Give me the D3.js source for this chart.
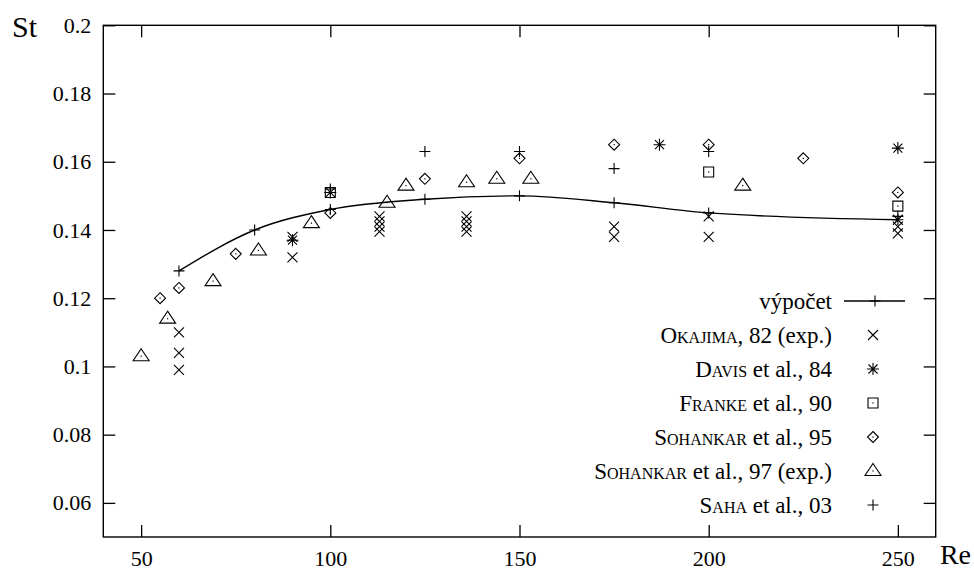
<!DOCTYPE html>
<html>
<head>
<meta charset="utf-8">
<script src="https://cdn.jsdelivr.net/npm/d3@7"></script>
<style>
  body { margin: 0; background: #fff; }
  svg text { font-family: "Liberation Serif", "DejaVu Serif", serif; fill: #000; }
  .sc { font-variant: small-caps; }
</style>
</head>
<body>
<div id="chart"></div>
<script>
// --- data ---
var xTicks = [50, 100, 150, 200, 250];
var yTicks = [0.06, 0.08, 0.1, 0.12, 0.14, 0.16, 0.18, 0.2];
var yTickLabels = ["0.06", "0.08", "0.1", "0.12", "0.14", "0.16", "0.18", "0.2"];

// výpočet (calculation)
var calcRe = [60, 80, 100, 125, 150, 175, 200, 250];
var calcSt = [0.128, 0.140, 0.146, 0.149, 0.150, 0.148, 0.145, 0.143];

// Okajima, 82 (exp.)
var okajimaRe = [60, 60, 60, 90, 90, 113, 113, 113, 113, 136, 136, 136, 136, 175, 175, 200, 200, 250, 250, 250];
var okajimaSt = [0.110, 0.104, 0.099, 0.138, 0.132, 0.144, 0.1425, 0.141, 0.1395, 0.144, 0.1425, 0.141, 0.1395, 0.141, 0.138, 0.144, 0.138, 0.143, 0.141, 0.139];

// Davis et al., 84
var davisRe = [90, 100, 187, 250];
var davisSt = [0.137, 0.151, 0.165, 0.164];

// Franke et al., 90
var frankeRe = [100, 200, 250];
var frankeSt = [0.151, 0.157, 0.147];

// Sohankar et al., 95
var sohankar95Re = [55, 60, 75, 100, 125, 150, 175, 200, 225, 250];
var sohankar95St = [0.120, 0.123, 0.133, 0.145, 0.155, 0.161, 0.165, 0.165, 0.161, 0.151];

// Sohankar et al., 97 (exp.)
var sohankar97Re = [50, 57, 69, 81, 95, 115, 120, 136, 144, 153, 209];
var sohankar97St = [0.103, 0.114, 0.125, 0.134, 0.142, 0.148, 0.153, 0.154, 0.155, 0.155, 0.153];

// Saha et al., 03
var sahaRe = [100, 125, 150, 175, 200, 250];
var sahaSt = [0.152, 0.163, 0.163, 0.158, 0.163, 0.144];

// legend: [name in small caps, rest of text]
var legendNames = ["", "Okajima", "Davis", "Franke", "Sohankar", "Sohankar", "Saha"];
var legendRest = ["výpočet", ", 82 (exp.)", " et al., 84", " et al., 90", " et al., 95", " et al., 97 (exp.)", " et al., 03"];

// marker shapes (gnuplot style, stroked)
var markers = {
    plus: "M-5.5,0H5.5M0,-5.5V5.5",
    cross: "M-5,-5L5,5M-5,5L5,-5",
    star: "M-6,0H6M0,-6V6M-4.5,-4.5L4.5,4.5M-4.5,4.5L4.5,-4.5",
    square: "M-5,-5H5V5H-5Z",
    diamond: "M0,-5.5L5.5,0L0,5.5L-5.5,0Z",
    triangle: "M0,-7.5L8,4.5H-8Z"
};

function zipPts(re, st) {
    return re.map(function(r, i) { return { re: r, st: st[i] }; });
}

var series = [
    { pts: zipPts(okajimaRe, okajimaSt), shape: "cross", dot: false },
    { pts: zipPts(davisRe, davisSt), shape: "star", dot: false },
    { pts: zipPts(frankeRe, frankeSt), shape: "square", dot: true },
    { pts: zipPts(sohankar95Re, sohankar95St), shape: "diamond", dot: true },
    { pts: zipPts(sohankar97Re, sohankar97St), shape: "triangle", dot: true },
    { pts: zipPts(sahaRe, sahaSt), shape: "plus", dot: false }
];

var WIDTH = 974, HEIGHT = 572;
var margin = { left: 103.3, right: 38.3, top: 25.3, bottom: 35 };
var width = WIDTH - margin.left - margin.right;
var height = HEIGHT - margin.top - margin.bottom;

var svg = d3.select("#chart").append("svg")
    .attr("width", WIDTH)
    .attr("height", HEIGHT);

var g = svg.append("g")
    .attr("transform", "translate(" + margin.left + "," + margin.top + ")");

var xScale = d3.scaleLinear().domain([40, 260]).range([0, width]);
var yScale = d3.scaleLinear().domain([0.05, 0.2]).range([height, 0]);

// frame
g.append("rect")
    .attr("width", width)
    .attr("height", height)
    .attr("fill", "none")
    .attr("stroke", "#000")
    .attr("stroke-width", 1.4);

// axes, ticks pointing inward on all four sides
var xAxis = d3.axisBottom(xScale).tickValues(xTicks).tickSize(-12).tickPadding(14)
    .tickFormat(d3.format("d"));
var yAxis = d3.axisLeft(yScale).tickValues(yTicks).tickSize(-12).tickPadding(12)
    .tickFormat(function(d, i) { return yTickLabels[i]; });

g.append("g").attr("class", "axis x-axis")
    .attr("transform", "translate(0," + height + ")")
    .call(xAxis);
g.append("g").attr("class", "axis y-axis")
    .call(yAxis);
g.append("g").attr("class", "axis x-top")
    .call(d3.axisTop(xScale).tickValues(xTicks).tickSize(-12).tickFormat(""));
g.append("g").attr("class", "axis y-right")
    .attr("transform", "translate(" + width + ",0)")
    .call(d3.axisRight(yScale).tickValues(yTicks).tickSize(-12).tickFormat(""));

g.selectAll(".axis .domain").remove();
g.selectAll(".axis line").attr("stroke", "#000").attr("stroke-width", 1.3);
g.selectAll(".axis").attr("font-family", null).attr("font-size", null);
g.selectAll(".axis text")
    .style("font-size", "22px")
    .attr("fill", "#000");
g.selectAll(".x-axis text").attr("dy", "0.7em");

// axis titles
svg.append("text")
    .attr("x", 12)
    .attr("y", 37)
    .style("font-size", "30px")
    .text("St");
svg.append("text")
    .attr("x", 971)
    .attr("y", 564)
    .attr("text-anchor", "end")
    .style("font-size", "28px")
    .text("Re");

// calculation curve
var line = d3.line()
    .x(function(d) { return xScale(d.re); })
    .y(function(d) { return yScale(d.st); })
    .curve(d3.curveMonotoneX);

var calcPts = zipPts(calcRe, calcSt);
g.append("path")
    .datum(calcPts)
    .attr("d", line)
    .attr("fill", "none")
    .attr("stroke", "#000")
    .attr("stroke-width", 1.4);

function drawMarker(sel, shape, dot) {
    sel.append("path")
        .attr("d", markers[shape])
        .attr("fill", "none")
        .attr("stroke", "#000")
        .attr("stroke-width", 1.1);
    if (dot) {
        sel.append("rect")
            .attr("x", -0.6).attr("y", -0.6)
            .attr("width", 1.2).attr("height", 1.2)
            .attr("fill", "#000");
    }
}

g.selectAll(".calc-pt")
    .data(calcPts)
    .enter().append("g")
    .attr("class", "calc-pt")
    .attr("transform", function(d) { return "translate(" + xScale(d.re) + "," + yScale(d.st) + ")"; })
    .each(function() { drawMarker(d3.select(this), "plus", false); });

series.forEach(function(s, k) {
    g.selectAll(".pt-" + k)
        .data(s.pts)
        .enter().append("g")
        .attr("class", "pt-" + k)
        .attr("transform", function(d) { return "translate(" + xScale(d.re) + "," + yScale(d.st) + ")"; })
        .each(function() { drawMarker(d3.select(this), s.shape, s.dot); });
});

// legend
var legendShapes = ["plus", "cross", "star", "square", "diamond", "triangle", "plus"];
var legendDots = [false, false, false, true, true, true, false];
var legend = svg.selectAll(".legend")
    .data(legendRest)
    .enter().append("g")
    .attr("class", "legend")
    .attr("transform", function(d, i) { return "translate(0," + (301 + i * 34) + ")"; });

var lt = legend.append("text")
    .attr("x", 832)
    .attr("dy", "0.33em")
    .attr("text-anchor", "end")
    .style("font-size", "23px");
lt.append("tspan")
    .attr("class", "sc")
    .text(function(d, i) { return legendNames[i]; });
lt.append("tspan")
    .text(function(d) { return d; });

legend.filter(function(d, i) { return i === 0; })
    .append("line")
    .attr("x1", 844).attr("x2", 905)
    .attr("stroke", "#000")
    .attr("stroke-width", 1.4);

legend.each(function(d, i) {
    var m = d3.select(this).append("g")
        .attr("transform", "translate(" + (i === 0 ? 875 : 873) + ",0)");
    drawMarker(m, legendShapes[i], legendDots[i]);
});
</script>
</body>
</html>
